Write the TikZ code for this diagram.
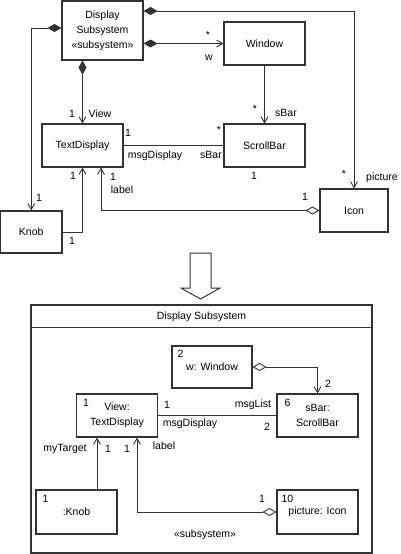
\documentclass[tikz,border=0pt]{standalone}
\usepackage{fontspec}
\setmainfont{Liberation Sans}
\usetikzlibrary{positioning,arrows.meta}
\definecolor{cLine}{HTML}{333333}

\begin{document}
\begin{tikzpicture}[x=1pt,y=-1pt,
      font=\fontsize{10.5}{15}\selectfont,
      cls/.style={draw=cLine,line width=1.1pt,minimum width=81pt,minimum height=43pt,
                  align=center,inner sep=1pt},
      lbl/.style={inner sep=0pt},
      arr/.style={-{Straight Barb[length=6pt,width=7pt]},line width=0.9pt,color=cLine},
      comp/.style={{Diamond[length=14pt,width=8pt]}-{Straight Barb[length=6pt,width=7pt]},
                   line width=0.9pt,color=cLine},
      aggr/.style={{Diamond[open,length=14pt,width=8pt]}-{Straight Barb[length=6pt,width=7pt]},
                   line width=0.9pt,color=cLine},
      assoc/.style={line width=0.9pt,color=cLine}]
    \useasboundingbox (0,0) rectangle (400,554);
    % class diagram
    \node[cls,minimum height=59pt] (disp) at (102.5,30.5) {Display\\Subsystem\\«subsystem»};
    \node[cls] (win) at (264.5,43.5) {Window};
    \node[cls] (txt) at (82.5,145.5) {TextDisplay};
    \node[cls] (sbar) at (264.5,145.5) {ScrollBar};
    \node[cls,minimum width=61.5pt,minimum height=42pt] (knob) at (31.25,232) {Knob};
    \node[cls,minimum width=68pt] (icon) at (354,210.5) {Icon};
    \coordinate (ts) at ([xshift=18.5pt]txt.south);
    \draw[comp] (disp.east |- 0,11) -| (icon.north);
    \draw[comp] (disp.east |- win.west) -- (win.west);
    \draw[comp] (disp.west |- 0,28) -| (knob.north);
    \draw[comp] (txt.north |- disp.south) -- (txt.north);
    \draw[arr] (win.south) -- (sbar.north);
    \draw[assoc] (txt.east) -- (sbar.west);
    \draw[arr] (knob.east) -| (txt.south);
    \draw[aggr] (icon.west) -| (ts);
    \node[lbl] (m1) at (208,35) {*};
    \node[lbl] (r1) at (209,58) {w};
    \node[lbl] (m2) at (72,114) {1};
    \node[lbl] (r2) at (100,114) {View};
    \node[lbl] (m3) at (128,133) {1};
    \node[lbl] (r3) at (155,156) {msgDisplay};
    \node[lbl] (m4) at (219,130) {*};
    \node[lbl] (r4) at (211,155) {sBar};
    \node[lbl] (m5) at (255,109) {*};
    \node[lbl] (r5) at (286,113) {sBar};
    \node[lbl] (m6) at (254,176) {1};
    \node[lbl] (m7) at (344,174) {*};
    \node[lbl] (r7) at (382,178) {picture};
    \node[lbl] (m8) at (305,197) {1};
    \node[lbl] (m9) at (39,198) {1};
    \node[lbl] (m10) at (72,241) {1};
    \node[lbl] (m11) at (73,176) {1};
    \node[lbl] (m12) at (113,177) {1};
    \node[lbl] (r12) at (122,190) {label};
    % refinement arrow
    \draw[line width=1pt,draw=cLine] (190,253) -- (211,253) -- (211,288) -- (220,288)
      -- (200.5,299) -- (181,288) -- (190,288) -- cycle;
    % object diagram
    \node[draw=cLine,line width=1.1pt,minimum width=341pt,minimum height=248pt,inner sep=0pt]
      (frame) at (201.5,429) {};
    \draw[assoc] (frame.west |- 0,327) -- (frame.east |- 0,327);
    \node (ttl) at (201.5,317) {Display Subsystem};
    \node[cls,minimum width=80pt,minimum height=42pt] (wwin) at (212,367) {w: Window};
    \node[cls] (view) at (117,415.5) {View:\\TextDisplay};
    \node[cls] (sbar2) at (317.5,415.5) {sBar:\\ScrollBar};
    \node[cls,minimum height=44pt] (knob2) at (76.5,512) {:Knob};
    \node[cls,minimum height=44pt] (icon2) at (317.5,512) {picture: Icon};
    \node[lbl] (n1) at ([shift={(9,8)}]wwin.north west) {2};
    \node[lbl] (n2) at ([shift={(10,9)}]view.north west) {1};
    \node[lbl] (n3) at ([shift={(11,9)}]sbar2.north west) {6};
    \node[lbl] (n4) at ([shift={(10,9)}]knob2.north west) {1};
    \node[lbl] (n5) at ([shift={(11,9)}]icon2.north west) {10};
    \coordinate (vs1) at ([xshift=-20pt]view.south);
    \coordinate (vs2) at ([xshift=20pt]view.south);
    \draw[aggr] (wwin.east) -| (sbar2.north);
    \draw[assoc] (view.east) -- (sbar2.west);
    \draw[arr] (vs1 |- knob2.north) -- (vs1);
    \draw[aggr] (icon2.west) -| (vs2);
    \node[lbl] (k1) at (328,384) {2};
    \node[lbl] (k2) at (167,405) {1};
    \node[lbl] (q2) at (253,405) {msgList};
    \node[lbl] (q3) at (190,424) {msgDisplay};
    \node[lbl] (k3) at (267,427) {2};
    \node[lbl] (q4) at (65,449) {myTarget};
    \node[lbl] (k4) at (108,449) {1};
    \node[lbl] (k5) at (127,449) {1};
    \node[lbl] (q5) at (164,446) {label};
    \node[lbl] (k6) at (262,499) {1};
    \node (stereo) at (205,535) {«subsystem»};
\end{tikzpicture}
\end{document}
